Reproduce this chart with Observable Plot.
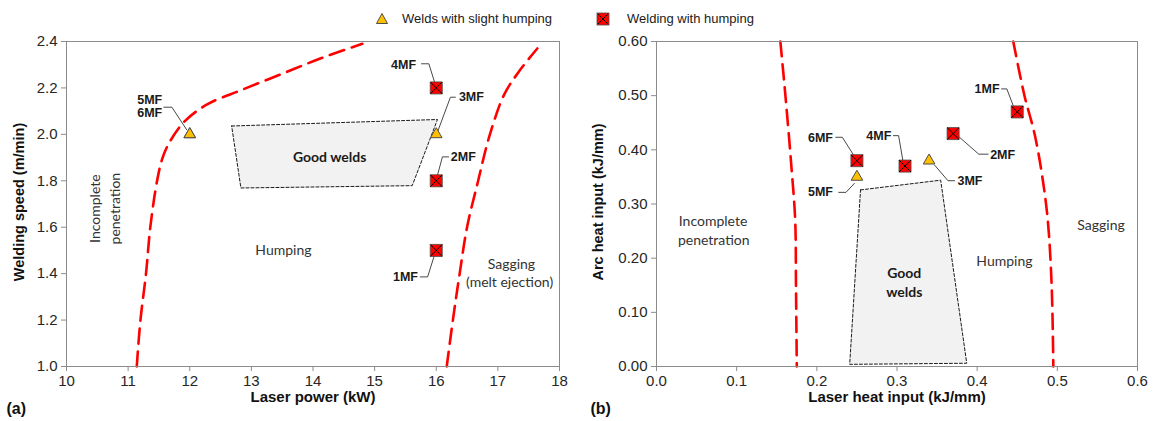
<!DOCTYPE html>
<html>
<head>
<meta charset="utf-8">
<script src="https://cdn.jsdelivr.net/npm/d3@7"></script>
<script src="https://cdn.jsdelivr.net/npm/@observablehq/plot@0.6"></script>
<style>
  body { margin: 0; background: #fff; font-family: "Liberation Sans", Arial, sans-serif; }
  #wrap { position: relative; width: 1153px; height: 421px; overflow: hidden; background: #fff; }
  #legend { position: absolute; top: 0; left: 0; width: 1153px; height: 32px; font-size: 13px; color: #1a1a1a; }
  #legend .item { position: absolute; top: 11px; line-height: 16px; white-space: nowrap; }
  #legend svg { position: absolute; }
  .panel { position: absolute; top: 30px; }
</style>
</head>
<body>
<div id="wrap">
  <div id="legend">
    <svg style="left:374px;top:11px" width="16" height="16"><path d="M8,2.5 L13.5,12.5 L2.5,12.5 Z" fill="#ffc000" stroke="#4d4d4d" stroke-width="1"/></svg>
    <div class="item" style="left:402px">Welds with slight humping</div>
    <svg style="left:596px;top:12px" width="14" height="14"><rect x="1" y="1" width="12" height="12" fill="#ff0000" stroke="#4d4d4d" stroke-width="0.8"/><path d="M2,2 L12,12 M12,2 L2,12" stroke="#000" stroke-width="1"/></svg>
    <div class="item" style="left:627px">Welding with humping</div>
  </div>
  <div id="pa" class="panel" style="left:0px"></div>
  <div id="pb" class="panel" style="left:580px"></div>
</div>
<script>
// ---- Trials (a): laser power vs welding speed ----
const weldIds = ["1MF", "2MF", "3MF", "4MF", "5MF", "6MF"];
const laserPowerKW = [16, 16, 16, 16, 12, 12];
const weldingSpeed = [1.5, 1.8, 2.0, 2.2, 2.0, 2.0];
const classA = ["humping", "humping", "slight", "humping", "slight", "slight"];

// ---- Trials (b): laser heat input vs arc heat input ----
const laserHeatInput = [0.45, 0.37, 0.34, 0.31, 0.25, 0.25];
const arcHeatInput = [0.47, 0.43, 0.38, 0.37, 0.35, 0.38];
const classB = ["humping", "humping", "slight", "humping", "slight", "humping"];

// Process-window boundaries (a)
const incompleteA_x = [11.14, 11.2, 11.29, 11.36, 11.47, 11.56, 11.68, 11.92, 12.29, 12.83, 13.49, 14.15, 14.8];
const incompleteA_y = [1.0, 1.2, 1.4, 1.6, 1.8, 1.9, 1.97, 2.057, 2.13, 2.19, 2.26, 2.33, 2.39];
const saggingA_x = [16.17, 16.27, 16.38, 16.5, 16.68, 16.86, 17.1, 17.34, 17.64];
const saggingA_y = [1.0, 1.2, 1.4, 1.6, 1.8, 1.99, 2.17, 2.27, 2.37];
const goodA_x = [12.68, 16.02, 15.61, 12.83, 12.68];
const goodA_y = [2.036, 2.064, 1.779, 1.769, 2.036];

// Process-window boundaries (b)
const incompleteB_x = [0.1545, 0.161, 0.168, 0.173, 0.174, 0.175];
const incompleteB_y = [0.6, 0.497, 0.374, 0.27, 0.146, 0.0];
const saggingB_x = [0.445, 0.459, 0.4715, 0.482, 0.4885, 0.493, 0.495];
const saggingB_y = [0.6, 0.5, 0.43, 0.343, 0.263, 0.146, 0.0];
const goodB_x = [0.2545, 0.3545, 0.387, 0.241, 0.2545];
const goodB_y = [0.326, 0.344, 0.006, 0.004, 0.326];

// Axis ticks
const xTicksA = [10, 11, 12, 13, 14, 15, 16, 17, 18];
const yTicksA = [1.0, 1.2, 1.4, 1.6, 1.8, 2.0, 2.2, 2.4];
const xTicksB = [0, 0.1, 0.2, 0.3, 0.4, 0.5, 0.6];
const yTicksB = [0, 0.1, 0.2, 0.3, 0.4, 0.5, 0.6];

// Trial callouts (a)
const calloutTextA = ["5MF", "6MF", "4MF", "3MF", "2MF", "1MF"];
const calloutXA = [11.35, 11.35, 15.47, 16.57, 16.44, 15.5];
const calloutYA = [2.15, 2.09, 2.30, 2.16, 1.903, 1.386];
const leadersA = [
  [[11.58, 2.117], [11.71, 2.117], [11.95, 2.02]],
  [[15.76, 2.304], [15.88, 2.304], [15.99, 2.21]],
  [[16.31, 2.16], [16.23, 2.16], [16.02, 2.01]],
  [[16.2, 1.903], [16.1, 1.903], [16.01, 1.814]],
  [[15.74, 1.386], [15.86, 1.386], [15.97, 1.479]]
];

// Trial callouts (b)
const calloutTextB = ["1MF", "2MF", "4MF", "6MF", "3MF", "5MF"];
const calloutXB = [0.4123, 0.4318, 0.2773, 0.2045, 0.391, 0.2045];
const calloutYB = [0.5125, 0.391, 0.426, 0.421, 0.343, 0.3215];
const leadersB = [
  [[0.4305, 0.5125], [0.437, 0.5125], [0.447, 0.4737]],
  [[0.4136, 0.392], [0.402, 0.392], [0.377, 0.4244]],
  [[0.2955, 0.4262], [0.302, 0.4262], [0.3077, 0.377]],
  [[0.2236, 0.4232], [0.2318, 0.4232], [0.2477, 0.386]],
  [[0.3718, 0.343], [0.3636, 0.343], [0.3468, 0.372]],
  [[0.2273, 0.3215], [0.2364, 0.3215], [0.2468, 0.338]]
];

// Region names
const regionTextA = ["Humping", "Sagging", "(melt ejection)"];
const regionXA = [13.52, 17.22, 17.19];
const regionYA = [1.5, 1.44, 1.36];
const verticalTextA = ["Incomplete", "penetration"];
const verticalXA = [10.47, 10.8];
const verticalYA = [1.68, 1.68];
const goodTextA = ["Good welds"];
const goodLabelXA = [14.27];
const goodLabelYA = [1.9];

const regionTextB = ["Incomplete", "penetration", "Sagging", "Humping"];
const regionXB = [0.0705, 0.0714, 0.5545, 0.434];
const regionYB = [0.268, 0.2326, 0.26, 0.193];
const goodTextB = ["Good", "welds"];
const goodLabelXB = [0.309, 0.309];
const goodLabelYB = [0.171, 0.137];

// ---- helpers ----
const zip = (xs, ys, extra = {}) => xs.map((x, i) => ({x, y: ys[i], ...extra}));
const labelRows = (t, xs, ys) => t.map((s, i) => ({text: s, x: xs[i], y: ys[i]}));
const leaderRows = (ls) => ls.flatMap((pts, k) => pts.map(([x, y]) => ({x, y, id: k})));
const trialRows = (xs, ys, cls) => weldIds.map((id, i) => ({id, x: xs[i], y: ys[i], cls: cls[i]}));

const SANS = "'Liberation Sans', Arial, sans-serif";
const HUMAN = "Lato, 'Open Sans', sans-serif";
const RED = "#ff0000";
const AXIS = "#8c8c8c";
const INK = "#262626";

function panel({width, marginLeft, marginRight, xDomain, yDomain, xTicks, yTicks, xFmt, yFmt,
                curves, good, goodLabels, regions, vertical, callouts, leaders, trials,
                xTitle, yTitle, yTitleDx, tag, tagDx}) {
  const squares = trials.filter(d => d.cls === "humping");
  const triangles = trials.filter(d => d.cls === "slight");
  return Plot.plot({
    width, height: 391,
    marginLeft, marginRight, marginTop: 11, marginBottom: 55,
    style: {fontFamily: SANS, fontSize: "15px", color: INK, background: "#fff", overflow: "visible"},
    x: {domain: xDomain},
    y: {domain: yDomain},
    marks: [
      // good-weld window
      Plot.line(good, {x: "x", y: "y", fill: "#f2f2f2", stroke: "#1a1a1a", strokeWidth: 1, strokeDasharray: "3,2", curve: "linear"}),
      // boundary curves
      ...curves.map(c => Plot.line(c, {x: "x", y: "y", curve: "catmull-rom", stroke: RED, strokeWidth: 2.6, strokeDasharray: "15,8"})),
      Plot.frame({stroke: AXIS}),
      Plot.axisX({ticks: xTicks, tickFormat: xFmt, tickSize: 5, tickPadding: 4, stroke: AXIS, fill: INK, label: null, fontSize: 15}),
      Plot.axisY({ticks: yTicks, tickFormat: yFmt, tickSize: 5, tickPadding: 4, stroke: AXIS, fill: INK, label: null, fontSize: 15}),
      // region names
      Plot.text(regions, {x: "x", y: "y", text: "text", fontFamily: HUMAN, fontSize: 14, fill: "#333"}),
      Plot.text(vertical, {x: "x", y: "y", text: "text", rotate: -90, fontFamily: HUMAN, fontSize: 14, fill: "#333"}),
      Plot.text(goodLabels, {x: "x", y: "y", text: "text", fontFamily: HUMAN, fontWeight: "bold", fontSize: 14, fill: "#1a1a1a"}),
      // callout leaders and labels
      Plot.line(leaders, {x: "x", y: "y", z: "id", stroke: "#333", strokeWidth: 0.9}),
      Plot.text(callouts, {x: "x", y: "y", text: "text", fontWeight: "bold", fontSize: 12.5, fill: "#1a1a1a"}),
      // trials
      Plot.dot(triangles, {x: "x", y: "y", symbol: "triangle", r: 4.3, fill: "#ffc000", stroke: "#4d4d4d", strokeWidth: 1}),
      Plot.dot(squares, {x: "x", y: "y", symbol: "square", r: 6.8, fill: RED, stroke: "#4d4d4d", strokeWidth: 0.8}),
      Plot.dot(squares, {x: "x", y: "y", symbol: "times", r: 5.4, stroke: "#000", strokeWidth: 1}),
      // axis titles and panel tag
      Plot.text([xTitle], {text: d => d, frameAnchor: "bottom", textAnchor: "middle", lineAnchor: "middle", dy: 31, fontWeight: "bold", fontSize: 15, fill: "#111"}),
      Plot.text([yTitle], {text: d => d, frameAnchor: "left", textAnchor: "middle", lineAnchor: "middle", rotate: -90, dx: yTitleDx, dy: -2, fontWeight: "bold", fontSize: 14.5, fill: "#111"}),
      Plot.text([tag], {text: d => d, frameAnchor: "bottom-left", textAnchor: "start", lineAnchor: "middle", dx: tagDx, dy: 42, fontWeight: "bold", fontSize: 16, fill: "#111"})
    ]
  });
}

const plotA = panel({
  width: 580, marginLeft: 66, marginRight: 21,
  xDomain: [10, 18], yDomain: [1.0, 2.4], xTicks: xTicksA, yTicks: yTicksA,
  xFmt: d3.format("d"), yFmt: d3.format(".1f"),
  curves: [zip(incompleteA_x, incompleteA_y), zip(saggingA_x, saggingA_y)],
  good: zip(goodA_x, goodA_y),
  goodLabels: labelRows(goodTextA, goodLabelXA, goodLabelYA),
  regions: labelRows(regionTextA, regionXA, regionYA),
  vertical: labelRows(verticalTextA, verticalXA, verticalYA),
  callouts: labelRows(calloutTextA, calloutXA, calloutYA),
  leaders: leaderRows(leadersA),
  trials: trialRows(laserPowerKW, weldingSpeed, classA),
  xTitle: "Laser power (kW)", yTitle: "Welding speed (m/min)", yTitleDx: -47,
  tag: "(a)", tagDx: -60
});

const plotB = panel({
  width: 573, marginLeft: 76, marginRight: 16,
  xDomain: [0, 0.6], yDomain: [0, 0.6], xTicks: xTicksB, yTicks: yTicksB,
  xFmt: d3.format(".1f"), yFmt: d3.format(".2f"),
  curves: [zip(incompleteB_x, incompleteB_y), zip(saggingB_x, saggingB_y)],
  good: zip(goodB_x, goodB_y),
  goodLabels: labelRows(goodTextB, goodLabelXB, goodLabelYB),
  regions: labelRows(regionTextB, regionXB, regionYB),
  vertical: [],
  callouts: labelRows(calloutTextB, calloutXB, calloutYB),
  leaders: leaderRows(leadersB),
  trials: trialRows(laserHeatInput, arcHeatInput, classB),
  xTitle: "Laser heat input (kJ/mm)", yTitle: "Arc heat input (kJ/mm)", yTitleDx: -58,
  tag: "(b)", tagDx: -66
});

document.getElementById("pa").appendChild(plotA);
document.getElementById("pb").appendChild(plotB);
</script>
</body>
</html>
